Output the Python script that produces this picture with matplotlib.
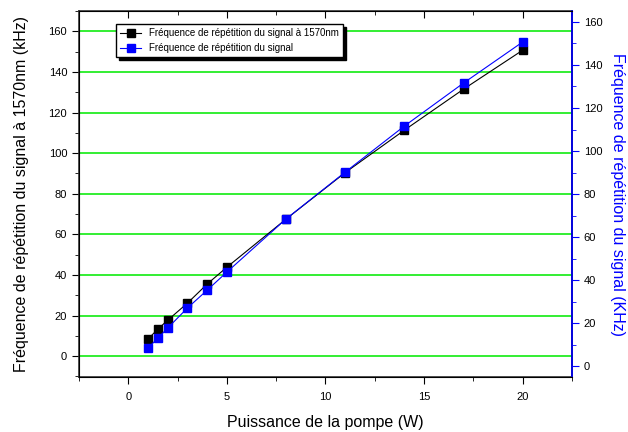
import matplotlib.pyplot as plt
from matplotlib.ticker import MultipleLocator

plt.rcParams['font.family'] = ['Liberation Sans', 'DejaVu Sans']

# pump power (W)
puissance = [1, 1.5, 2, 3, 4, 5, 8, 11, 14, 17, 20]
# repetition rate at 1570 nm (kHz), left axis
freq_1570 = [8.4, 13.3, 17.7, 26.1, 35.5, 43.8, 67.5, 90.4, 111.3, 131.5, 150.7]
# signal repetition rate (kHz), right axis
freq_signal = [8.4, 13.0, 17.7, 27.0, 35.3, 43.7, 68.4, 90.2, 111.6, 131.6, 150.7]

fig = plt.figure(figsize=(6.28, 4.32), dpi=100)
ax = fig.add_axes([0.1258, 0.1273, 0.785, 0.8472])
ax2 = ax.twinx()

ax.set_xlim(-2.5, 22.5)
ax.set_ylim(-10.3, 170)
ax2.set_ylim(-5.1, 165.1)

# horizontal green grid on the left-axis major ticks
for y in range(0, 161, 20):
    ax.axhline(y, color='#33ee33', lw=1.4, zorder=0)

l1, = ax.plot(puissance, freq_1570, color='black', lw=0.8, marker='s', ms=5.2,
              label='Fréquence de répétition du signal à 1570nm')
l2, = ax2.plot(puissance, freq_signal, color='blue', lw=0.8, marker='s', ms=5.2,
               label='Fréquence de répétition du signal')

ax.xaxis.set_major_locator(MultipleLocator(5))
ax.xaxis.set_minor_locator(MultipleLocator(2.5))
ax.yaxis.set_major_locator(MultipleLocator(20))
ax.yaxis.set_minor_locator(MultipleLocator(10))
ax2.yaxis.set_major_locator(MultipleLocator(20))
ax2.yaxis.set_minor_locator(MultipleLocator(10))

ax.tick_params(axis='x', which='both', direction='out', labelsize=8, pad=6)
ax.tick_params(axis='x', which='major', length=5)
ax.tick_params(axis='x', which='minor', length=3)
ax.tick_params(axis='y', which='major', direction='out', length=5, labelsize=8)
ax.tick_params(axis='y', which='minor', direction='out', length=3)
ax2.tick_params(axis='y', which='major', direction='out', length=5, color='blue',
                labelsize=8, labelcolor='black')
ax2.tick_params(axis='y', which='minor', direction='out', length=3, color='blue')

# inward ticks along the top edge
top = ax.secondary_xaxis('top')
top.xaxis.set_major_locator(MultipleLocator(5))
top.xaxis.set_minor_locator(MultipleLocator(2.5))
top.tick_params(which='major', direction='in', length=5, labeltop=False)
top.tick_params(which='minor', direction='in', length=3)
top.spines['top'].set_visible(False)

for side in ('left', 'bottom', 'top'):
    ax.spines[side].set_color('#333333')
ax2.spines['right'].set_color('blue')
ax2.spines['right'].set_linewidth(1.2)
for s in ax.spines.values():
    s.set_linewidth(1.2)

ax.set_xlabel('Puissance de la pompe (W)', fontsize=11.5, labelpad=9)
ax.set_ylabel('Fréquence de répétition du signal à 1570nm (kHz)', fontsize=11.5,
              labelpad=14)
ax2.set_ylabel('Fréquence de répétition du signal (KHz)', fontsize=11.5,
               color='blue', rotation=270, labelpad=16)

leg = ax.legend(handles=[l1, l2], loc='upper left', bbox_to_anchor=(0.075, 0.964),
                borderaxespad=0, fontsize=7, fancybox=False, framealpha=1,
                edgecolor='black', numpoints=1, handlelength=2.2,
                shadow={'color': 'black', 'alpha': 1})
leg.get_frame().set_linewidth(1.0)

fig.savefig('out.png')
